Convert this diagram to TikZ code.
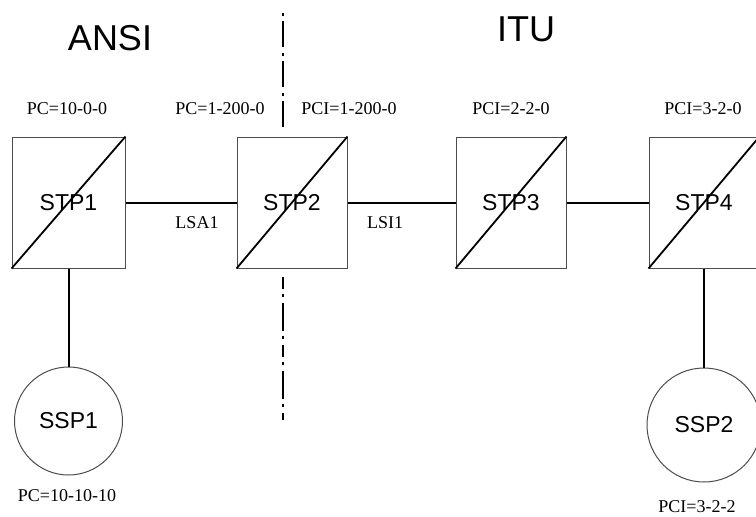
\documentclass[tikz,border=0pt]{standalone}
\usepackage{fontspec}
\setmainfont{Liberation Serif}
\setsansfont{Liberation Sans}
\begin{document}
\begin{tikzpicture}[x=1pt,y=-1pt,
  stpbox/.style={draw=black!70,line width=1pt,rectangle,inner sep=0pt,font=\sffamily\fontsize{23}{23}\selectfont},
  sspcirc/.style={draw=black!70,line width=1pt,circle,inner sep=0pt,font=\sffamily\fontsize{23}{23}\selectfont},
  link/.style={draw=black,line width=2pt},
  diag/.style={draw=black,line width=1.8pt},
  pclabel/.style={font=\fontsize{18}{18}\selectfont,inner sep=0pt},
  region/.style={font=\sffamily\fontsize{36}{36}\selectfont,inner sep=0pt},
  border/.style={draw=black,line width=2pt,dash pattern=on 3pt off 5pt on 26pt off 6pt}
]
\useasboundingbox (0,0) rectangle (756,517);
\clip (0,0) rectangle (756,517);

\node[stpbox,minimum width=113pt,minimum height=131pt] (stp1) at (68.5,202.5) {STP1};
\node[stpbox,minimum width=110pt,minimum height=131pt] (stp2) at (292,202.5) {STP2};
\node[stpbox,minimum width=110pt,minimum height=131pt] (stp3) at (511,202.5) {STP3};
\node[stpbox,minimum width=110pt,minimum height=131pt] (stp4) at (704,202.5) {STP4};

\foreach \n in {stp1,stp2,stp3,stp4}{
  \draw[diag] (\n.south west) -- (\n.north east);
}

\node[sspcirc,minimum size=108pt] (ssp1) at (68.5,421) {SSP1};
\node[sspcirc,minimum size=114pt] (ssp2) at (704,425) {SSP2};

\draw[link] (stp1.east) -- (stp2.west);
\draw[link] (stp2.east) -- (stp3.west);
\draw[link] (stp3.east) -- (stp4.west);
\draw[link] (stp1.south) -- (ssp1.north);
\draw[link] (stp4.south) -- (ssp2.north);

\node[region] (ansi) at (110,38) {ANSI};
\node[region] (itu) at (526,29) {ITU};

\node[pclabel] (pc1) at (67,109) {PC=10-0-0};
\node[pclabel] (pc2) at (220,109) {PC=1-200-0};
\node[pclabel] (pci2) at (349,109) {PCI=1-200-0};
\node[pclabel] (pci3) at (511,109) {PCI=2-2-0};
\node[pclabel] (pci4) at (703,109) {PCI=3-2-0};
\node[pclabel] (lsa1) at (197,223) {LSA1};
\node[pclabel] (lsi1) at (385,223) {LSI1};
\node[pclabel] (pcs1) at (67,496) {PC=10-10-10};
\node[pclabel] (pcs2) at (697,507) {PCI=3-2-2};

\coordinate (b1) at (283,13);
\coordinate (b2) at (283,130);
\coordinate (b3) at (283,277);
\coordinate (b4) at (283,420);
\draw[border] (b1) -- (b2);
\draw[border,dash pattern=on 12pt off 5pt on 3pt off 6pt on 28pt off 5pt on 3pt off 6pt] (b3) -- (b4);
\end{tikzpicture}
\end{document}
